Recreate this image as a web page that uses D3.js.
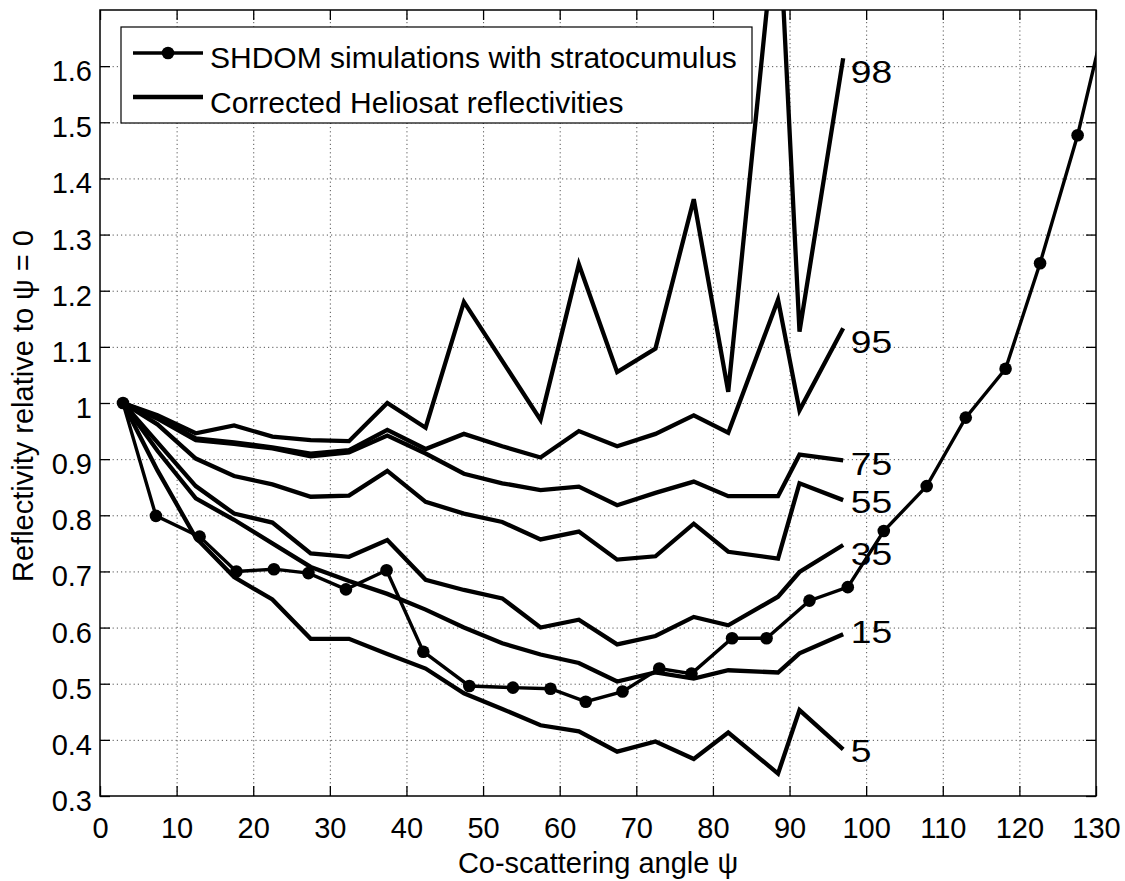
<!DOCTYPE html>
<html>
<head>
<meta charset="utf-8">
<script src="https://cdn.jsdelivr.net/npm/d3@7"></script>
<style>
  body { margin: 0; background: #fff; }
  svg { display: block; font-family: "Liberation Sans", Arial, Helvetica, sans-serif; }
  .grid line { stroke: #555; stroke-width: 1; stroke-dasharray: 1.2,3; }
  .grid .domain { display: none; }
  .axis line { stroke: #000; stroke-width: 1.3; }
  .axis .domain { display: none; }
  .axis text { font-size: 29px; fill: #000; font-family: "Liberation Sans", Arial, sans-serif; }
  .helio { fill: none; stroke: #000; stroke-width: 4.3; stroke-linejoin: miter; }
  .shdom { fill: none; stroke: #000; stroke-width: 3.4; }
</style>
</head>
<body>
<svg width="1125" height="881"></svg>
<script>
"use strict";

var width = 1125,
    height = 881,
    margin = {top: 10, right: 29, bottom: 85, left: 100};

// angles of the Heliosat reflectivity curves
var helioAngle = [3, 7.5, 12.5, 17.5, 22.5, 27.5, 32.5, 37.5, 42.5, 47.5, 52.5, 57.5, 62.5, 67.5, 72.5, 77.5, 82, 88.5, 91.3, 97];

var p98 = [1.0, 0.978, 0.946, 0.96, 0.94, 0.934, 0.932, 1.0, 0.956, 1.18, 1.075, 0.97, 1.247, 1.055, 1.097, 1.363, 1.02, 1.90, 1.127, 1.614];
var p95 = [1.0, 0.975, 0.937, 0.93, 0.921, 0.91, 0.916, 0.952, 0.918, 0.945, 0.923, 0.903, 0.95, 0.923, 0.945, 0.978, 0.947, 1.184, 0.987, 1.133];
var p75 = [1.0, 0.972, 0.934, 0.927, 0.919, 0.905, 0.912, 0.942, 0.91, 0.874, 0.857, 0.845, 0.851, 0.818, 0.84, 0.86, 0.834, 0.834, 0.908, 0.898];
var p55 = [1.0, 0.962, 0.901, 0.87, 0.855, 0.833, 0.835, 0.879, 0.824, 0.803, 0.788, 0.757, 0.771, 0.721, 0.727, 0.785, 0.735, 0.723, 0.857, 0.827];
var p35 = [1.0, 0.93, 0.852, 0.803, 0.787, 0.732, 0.726, 0.756, 0.685, 0.667, 0.652, 0.60, 0.614, 0.57, 0.585, 0.619, 0.604, 0.655, 0.699, 0.747];
var p15 = [1.0, 0.915, 0.83, 0.792, 0.75, 0.708, 0.683, 0.66, 0.632, 0.60, 0.572, 0.552, 0.537, 0.504, 0.52, 0.509, 0.524, 0.52, 0.554, 0.588];
var p5  = [1.0, 0.88, 0.76, 0.69, 0.65, 0.58, 0.58, 0.553, 0.527, 0.483, 0.455, 0.426, 0.415, 0.379, 0.397, 0.366, 0.413, 0.34, 0.453, 0.383];

var percentiles = ["98", "95", "75", "55", "35", "15", "5"];
var labelY = [1.589, 1.109, 0.891, 0.824, 0.731, 0.592, 0.380];

// SHDOM simulations with stratocumulus
var shdomAngle = [3, 7.3, 13, 17.8, 22.7, 27.2, 32.1, 37.4, 42.2, 48.2, 53.9, 58.8, 63.4, 68.2, 73.0, 77.2, 82.5, 87.0, 92.6, 97.6, 102.3, 107.9, 113.0, 118.2, 122.7, 127.6, 132.7];
var shdomRefl = [1.0, 0.799, 0.762, 0.70, 0.704, 0.697, 0.668, 0.702, 0.557, 0.496, 0.493, 0.491, 0.468, 0.486, 0.527, 0.518, 0.581, 0.581, 0.648, 0.672, 0.772, 0.852, 0.974, 1.061, 1.249, 1.477, 1.77];

var xTicks = [0, 10, 20, 30, 40, 50, 60, 70, 80, 90, 100, 110, 120, 130];
var yTicks = [0.3, 0.4, 0.5, 0.6, 0.7, 0.8, 0.9, 1.0, 1.1, 1.2, 1.3, 1.4, 1.5, 1.6];

var legendLabels = ["SHDOM simulations with stratocumulus", "Corrected Heliosat reflectivities"];

var w = width - margin.left - margin.right,
    h = height - margin.top - margin.bottom;

var x = d3.scaleLinear().domain([0, 130]).range([0, w]);
var y = d3.scaleLinear().domain([0.3, 1.7]).range([h, 0]);

var svg = d3.select("svg")
    .attr("width", width)
    .attr("height", height)
  .append("g")
    .attr("transform", "translate(" + margin.left + "," + margin.top + ")");

svg.append("defs").append("clipPath")
    .attr("id", "plotclip")
  .append("rect")
    .attr("width", w)
    .attr("height", h);

// dotted grid
svg.append("g")
    .attr("class", "grid")
    .attr("transform", "translate(0," + h + ")")
    .call(d3.axisBottom(x).tickValues(xTicks.slice(1, -1)).tickSize(-h).tickFormat(""));

svg.append("g")
    .attr("class", "grid")
    .call(d3.axisLeft(y).tickValues(yTicks.slice(1)).tickSize(-w).tickFormat(""));

// inward ticks on all four sides
svg.append("g")
    .attr("class", "axis")
    .attr("transform", "translate(0," + h + ")")
    .call(d3.axisBottom(x).tickValues(xTicks).tickSizeInner(-10).tickSizeOuter(0).tickPadding(21));

svg.append("g")
    .attr("class", "axis")
    .call(d3.axisTop(x).tickValues(xTicks).tickSizeInner(-10).tickSizeOuter(0).tickFormat(""));

svg.append("g")
    .attr("class", "axis")
    .call(d3.axisLeft(y).tickValues(yTicks).tickSizeInner(-10).tickSizeOuter(0).tickPadding(8)
        .tickFormat(function (d) { return String(+d.toFixed(1)); }))
  .selectAll("text")
    .attr("dy", "0.5em");

svg.append("g")
    .attr("class", "axis")
    .attr("transform", "translate(" + w + ",0)")
    .call(d3.axisRight(y).tickValues(yTicks).tickSizeInner(-10).tickSizeOuter(0).tickFormat(""));

var line = d3.line()
    .x(function (d) { return x(d[0]); })
    .y(function (d) { return y(d[1]); });

var plot = svg.append("g").attr("clip-path", "url(#plotclip)");

var helioSeries = [p98, p95, p75, p55, p35, p15, p5];

plot.selectAll(".helio")
    .data(helioSeries)
    .enter()
    .append("path")
    .attr("class", "helio")
    .attr("d", function (vals) {
        return line(vals.map(function (v, i) { return [helioAngle[i], v]; }));
    });

var shdom = shdomAngle.map(function (a, i) { return [a, shdomRefl[i]]; });

plot.append("path")
    .datum(shdom)
    .attr("class", "shdom")
    .attr("d", line);

plot.selectAll(".mark")
    .data(shdom)
    .enter()
    .append("circle")
    .attr("class", "mark")
    .attr("cx", function (d) { return x(d[0]); })
    .attr("cy", function (d) { return y(d[1]); })
    .attr("r", 6.3)
    .attr("fill", "#000");

// percentile labels at the curve ends (slightly wide glyphs as in the original)
svg.selectAll(".plabel")
    .data(percentiles)
    .enter()
    .append("text")
    .attr("class", "plabel")
    .attr("transform", function (d, i) {
        return "translate(" + x(98) + "," + y(labelY[i]) + ") scale(1.2,1)";
    })
    .attr("dy", "0.36em")
    .attr("font-size", 31)
    .text(function (d) { return d; });

// box
svg.append("rect")
    .attr("width", w)
    .attr("height", h)
    .attr("fill", "none")
    .attr("stroke", "#000")
    .attr("stroke-width", 1.5);

// legend
var legend = svg.append("g").attr("transform", "translate(21,17)");

legend.append("rect")
    .attr("width", 631)
    .attr("height", 96)
    .attr("fill", "#fff")
    .attr("stroke", "#000")
    .attr("stroke-width", 1.2);

legend.selectAll(".lline")
    .data(legendLabels)
    .enter()
    .append("line")
    .attr("x1", 12)
    .attr("x2", 82)
    .attr("y1", function (d, i) { return 26 + i * 44; })
    .attr("y2", function (d, i) { return 26 + i * 44; })
    .attr("stroke", "#000")
    .attr("stroke-width", function (d, i) { return i === 0 ? 3.4 : 4.3; });

legend.append("circle")
    .attr("cx", 47)
    .attr("cy", 26)
    .attr("r", 6.3)
    .attr("fill", "#000");

legend.selectAll(".ltext")
    .data(legendLabels)
    .enter()
    .append("text")
    .attr("x", 89)
    .attr("y", function (d, i) { return 41 + i * 45; })
    .attr("font-size", 30)
    .text(function (d) { return d; });

// axis titles
svg.append("text")
    .attr("x", w / 2)
    .attr("y", 863)
    .attr("text-anchor", "middle")
    .attr("font-size", 29)
    .text("Co-scattering angle \u03c8");

svg.append("text")
    .attr("transform", "translate(-67," + (h / 2 + 3) + ") rotate(-90)")
    .attr("text-anchor", "middle")
    .attr("font-size", 29)
    .text("Reflectivity relative to \u03c8 = 0");
</script>
</body>
</html>
